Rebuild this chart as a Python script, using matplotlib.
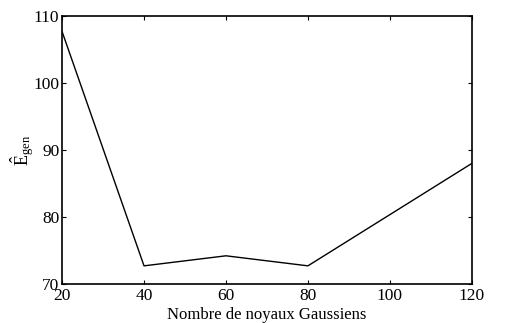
import matplotlib
matplotlib.use("Agg")
import matplotlib.pyplot as plt

plt.rcParams['font.family'] = ['Liberation Serif', 'DejaVu Serif']
plt.rcParams['mathtext.fontset'] = 'custom'
plt.rcParams['mathtext.rm'] = 'Liberation Serif'
plt.rcParams['mathtext.it'] = 'Liberation Serif:italic'

x_vals = [20, 40, 60, 80, 120]
y_vals = [107.7, 72.7, 74.2, 72.7, 88.0]
x_ticks = [20, 40, 60, 80, 100, 120]
y_ticks = [70, 80, 90, 100, 110]

fig = plt.figure(figsize=(5.26, 3.23), dpi=100)
ax = fig.add_axes([0.118, 0.121, 0.779, 0.829])
ax.plot(x_vals, y_vals, color='black', lw=1.0)
ax.set_xlim(20, 120)
ax.set_ylim(70, 110)
ax.set_xticks(x_ticks)
ax.set_yticks(y_ticks)
ax.tick_params(direction='in', top=True, right=True, length=3, labelsize=12.5, width=0.8)
ax.tick_params(axis='y', pad=2)
ax.tick_params(axis='x', pad=3)
for s in ax.spines.values():
    s.set_linewidth(1.2)
ax.set_xlabel('Nombre de noyaux Gaussiens', fontsize=12, labelpad=2)
ax.set_ylabel(r'$\hat{\mathrm{E}}_{\mathrm{gen}}$', fontsize=13)
ax.yaxis.set_label_coords(-0.062, 0.5)
fig.savefig('out.png', dpi=100)
